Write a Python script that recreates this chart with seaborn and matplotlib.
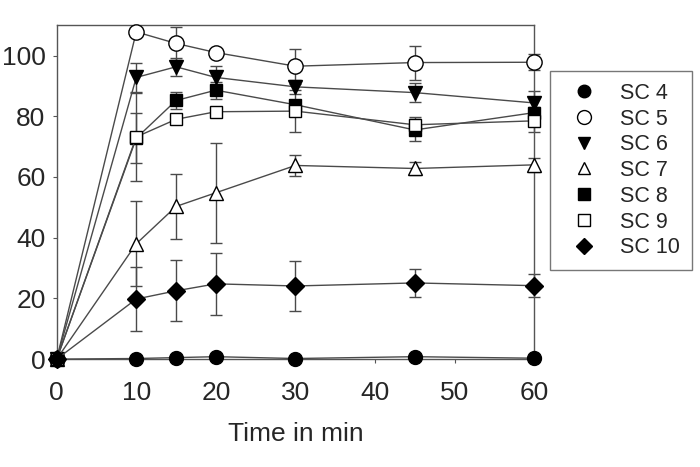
import matplotlib
matplotlib.use("Agg")
import matplotlib.pyplot as plt
from matplotlib.lines import Line2D
import seaborn as sns

# Data
time = [0, 10, 15, 20, 30, 45, 60]
labels = ["SC 4", "SC 5", "SC 6", "SC 7", "SC 8", "SC 9", "SC 10"]

sc4 = [0, 0.2, 0.5, 0.8, 0.2, 0.8, 0.3]
sc5 = [0, 107.8, 104, 101, 96.5, 97.7, 97.8]
sc6 = [0, 92.8, 96.3, 92.8, 89.7, 87.8, 84.4]
sc7 = [0, 38, 50.3, 54.8, 63.8, 62.8, 64]
sc8 = [0, 72.8, 85.2, 88.6, 83.8, 75.5, 81.2]
sc9 = [0, 73.2, 79, 81.5, 81.7, 77.2, 78.5]
sc10 = [0, 19.8, 22.5, 24.8, 24.1, 25.1, 24.2]

sc4_err = [0, 0.3, 0.4, 0.5, 0.3, 0.5, 0.3]
sc5_err = [0, 0, 5.5, 1.0, 5.8, 5.6, 2.7]
sc6_err = [0, 4.7, 3.0, 3.8, 2.4, 3.0, 4.0]
sc7_err = [0, 14, 10.8, 16.5, 3.5, 2.0, 2.4]
sc8_err = [0, 8.3, 2.7, 2.8, 1.5, 3.5, 2.0]
sc9_err = [0, 14.4, 1.5, 1.0, 7.0, 2.6, 3.6]
sc10_err = [0, 10.4, 10, 10.1, 8.2, 4.7, 3.7]

values = [sc4, sc5, sc6, sc7, sc8, sc9, sc10]
errors = [sc4_err, sc5_err, sc6_err, sc7_err, sc8_err, sc9_err, sc10_err]
markers = ["o", "o", "v", "^", "s", "s", "D"]
fills = ["black", "white", "black", "white", "black", "white", "black"]
msizes = [10, 11, 10, 10, 9, 9, 9]

sns.set_style("ticks")
plt.rcParams["font.family"] = ["Liberation Sans", "DejaVu Sans"]

fig = plt.figure(figsize=(7, 4.67), dpi=100)
ax = fig.add_axes([0.081, 0.231, 0.682, 0.715])

line_col = "#4a4a4a"
for i in range(len(labels)):
    ax.errorbar(time, values[i], yerr=errors[i], fmt="none", ecolor=line_col,
                elinewidth=1, capsize=4, capthick=1, zorder=2, clip_on=False)
    sns.lineplot(x=time, y=values[i], ax=ax, color=line_col, linewidth=1,
                 marker=markers[i], markersize=msizes[i], markerfacecolor=fills[i],
                 markeredgecolor="black", markeredgewidth=1, zorder=3,
                 clip_on=False, legend=False)

ax.set_xlim(0, 60)
ax.set_ylim(0, 110)
ax.set_xticks([0, 10, 20, 30, 40, 50, 60])
ax.set_yticks([0, 20, 40, 60, 80, 100])
ax.tick_params(axis="both", labelsize=19, direction="out", length=3, color="#555555")
ax.tick_params(axis="x", pad=13)
ax.tick_params(axis="y", pad=5)
ax.set_xlabel("Time in min", fontsize=19, labelpad=12)
ax.set_ylabel("")
for s in ax.spines.values():
    s.set_color("#555555")
    s.set_linewidth(1)

handles = [Line2D([], [], linestyle="none", marker=markers[i], markersize=msizes[i] - 1,
                  markerfacecolor=fills[i], markeredgecolor="black")
           for i in range(len(labels))]
leg = fig.legend(handles, labels, loc="upper left", bbox_to_anchor=(0.786, 0.848),
                 borderaxespad=0, fontsize=15.5, frameon=True, fancybox=False,
                 edgecolor="#555555", handletextpad=0.7, labelspacing=0.22,
                 borderpad=0.55, handlelength=2.0)
leg.get_frame().set_linewidth(1)

fig.savefig("out.png", dpi=100)
